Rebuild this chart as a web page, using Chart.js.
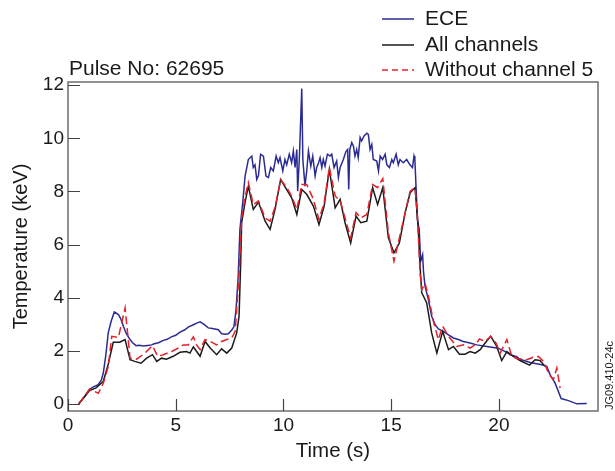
<!DOCTYPE html>
<html>
<head>
<meta charset="utf-8">
<script src="https://cdn.jsdelivr.net/npm/chart.js@4.4.1/dist/chart.umd.min.js"></script>
<style>
  html, body { margin: 0; padding: 0; background: #fff; }
  #wrap { width: 615px; height: 471px; }
</style>
</head>
<body>
<div id="wrap"><canvas id="chartTe"></canvas></div>
<script>
// ── data (time in s, Te in keV) ──
const eceTime = [0.5,0.75,1.0,1.2,1.4,1.55,1.64,1.75,1.87,2.0,2.15,2.34,2.45,2.57,2.7,2.88,3.0,3.16,3.3,3.5,3.7,3.88,
  4.0,4.2,4.4,4.6,4.8,5.0,5.2,5.4,5.6,5.82,6.0,6.13,6.3,6.51,6.7,6.98,7.13,7.3,7.44,7.6,7.7,7.8,7.9,7.98,
  8.11,8.22,8.37,8.53,8.6,8.68,8.76,8.84,8.94,9.07,9.19,9.3,9.41,9.53,9.66,9.76,9.84,9.97,10.07,10.15,10.27,10.38,
  10.46,10.54,10.62,10.66,10.74,10.85,10.9,11.0,11.08,11.16,11.27,11.36,11.47,11.54,11.6,11.7,11.78,11.85,11.93,
  12.04,12.16,12.24,12.35,12.47,12.55,12.63,12.78,12.9,12.98,13.03,13.08,13.17,13.25,13.32,13.4,13.47,13.56,13.63,
  13.74,13.87,13.94,14.02,14.1,14.17,14.33,14.41,14.49,14.6,14.72,14.8,14.92,15.03,15.1,15.23,15.33,15.41,15.56,
  15.72,15.87,15.99,16.06,16.1,16.16,16.22,16.3,16.37,16.46,16.5,16.57,16.73,16.88,17.04,17.19,17.42,17.66,17.89,
  18.12,18.35,18.66,18.97,19.44,19.9,20.06,20.37,20.52,20.83,20.98,21.45,21.99,22.22,22.38,22.61,22.89,23.23,23.62,24.08];
const eceTemp = [0,0.25,0.55,0.65,0.72,0.9,1.17,1.8,2.68,3.1,3.46,3.36,3.2,2.92,2.65,2.42,2.3,2.19,2.21,2.18,2.2,2.22,
  2.26,2.3,2.38,2.43,2.52,2.58,2.7,2.78,2.9,2.98,3.05,3.09,3.0,2.86,2.84,2.79,2.64,2.62,2.64,2.78,2.9,3.55,4.8,6.57,
  7.58,8.58,9.2,9.33,8.9,9.0,8.45,8.6,9.4,9.33,8.58,8.52,8.9,8.77,9.33,9.08,9.27,8.77,9.2,9.0,9.4,9.08,
  9.52,8.9,9.58,8.01,9.27,11.87,9.2,8.2,8.77,9.52,8.95,9.33,8.58,8.9,9.0,9.27,8.9,9.2,8.95,
  9.4,9.33,9.4,8.9,9.14,8.52,8.9,9.2,9.5,9.58,8.07,9.58,9.84,9.7,9.33,9.58,9.27,10.03,9.9,
  10.09,10.19,10.15,9.58,9.77,9.2,9.14,8.77,9.33,9.2,9.4,9.0,8.9,9.2,9.08,9.4,9.0,9.2,9.08,
  9.2,9.0,8.9,9.33,9.2,8.07,6.94,6.57,5.37,5.62,4.99,4.43,3.92,3.3,2.98,2.82,2.73,2.6,2.48,
  2.42,2.35,2.29,2.22,2.16,2.1,2.06,1.94,1.85,1.78,1.68,1.56,1.47,1.41,1.09,0.78,0.2,0.12,0.0,0.01];

const allTime = [0.5,1.0,1.3,1.64,1.87,2.1,2.4,2.65,2.88,3.1,3.39,3.65,3.92,4.12,4.34,4.57,4.88,5.2,5.5,5.66,5.82,5.97,
  6.13,6.36,6.6,6.9,7.13,7.37,7.6,7.83,7.94,8.02,8.06,8.22,8.37,8.6,8.84,9.15,9.38,9.61,9.87,10.15,10.38,10.62,
  10.85,11.08,11.39,11.65,11.89,12.13,12.4,12.63,12.86,13.12,13.37,13.59,13.87,14.14,14.37,14.61,14.87,15.13,15.38,
  15.65,15.88,16.11,16.26,16.34,16.42,16.5,16.65,16.88,17.12,17.39,17.66,17.89,18.17,18.43,18.66,18.9,19.13,19.36,
  19.62,19.9,20.13,20.37,20.67,20.98,21.42,21.68,21.91,22.14];
const allTemp = [0,0.5,0.6,0.85,1.5,2.32,2.32,2.42,1.66,1.6,1.53,1.72,1.85,1.6,1.72,1.68,1.79,1.94,1.97,1.91,2.14,1.97,
  1.79,2.35,2.1,1.85,2.07,1.91,2.1,2.67,3.3,5.43,6.82,7.6,8.2,7.32,7.6,6.88,6.57,7.32,8.45,8.07,7.76,7.13,
  8.07,7.89,7.45,6.75,7.45,8.83,7.38,7.7,6.82,6.06,7.07,6.82,6.88,8.14,7.51,8.14,6.25,5.69,6.06,
  7.2,7.95,8.14,6.57,5.18,4.18,4.05,3.8,2.67,1.91,2.73,2.04,2.16,1.87,1.87,1.97,1.91,2.04,2.29,
  2.54,2.16,1.63,1.97,1.79,1.63,1.46,1.66,1.63,1.41];

const w5Time = [0.5,1.0,1.41,1.64,1.87,2.03,2.34,2.65,2.88,3.19,3.57,3.92,4.16,4.42,4.81,5.12,5.35,5.58,5.82,5.97,6.13,
  6.36,6.6,6.9,7.13,7.37,7.6,7.76,7.86,7.95,8.06,8.22,8.37,8.6,8.84,9.15,9.38,9.61,9.87,10.15,10.38,10.62,10.85,
  11.08,11.39,11.65,11.89,12.13,12.4,12.63,12.86,13.12,13.37,13.59,13.87,14.14,14.37,14.61,14.87,15.13,15.38,15.65,
  15.88,16.11,16.22,16.34,16.42,16.57,16.73,16.96,17.19,17.39,17.66,18.05,18.35,18.66,18.9,19.1,19.36,19.62,19.87,
  20.06,20.37,20.6,20.9,21.29,21.6,21.84,22.07,22.34,22.53,22.69,22.84];
const w5Temp = [0,0.55,0.4,0.78,1.41,2.54,2.5,3.61,1.72,1.68,1.91,2.19,1.79,1.85,1.97,2.1,2.22,2.22,2.52,2.22,2.04,
  2.42,2.35,2.22,2.35,2.42,2.48,2.73,3.92,5.05,7.0,7.8,8.33,7.51,7.64,7.0,6.88,7.4,8.45,8.15,7.83,7.32,8.26,
  8.26,7.7,6.94,7.57,8.9,7.83,7.64,7.0,6.25,7.2,7.0,7.13,8.26,8.14,8.48,6.44,5.37,6.25,7.2,
  8.01,8.14,7.07,4.93,4.3,4.55,4.05,3.11,2.42,2.92,2.54,2.16,2.22,2.1,2.22,2.44,2.35,2.54,2.29,
  1.91,2.42,1.78,1.7,1.66,1.76,1.78,1.6,1.09,0.91,1.35,0.59];

const xTicks = [0, 5, 10, 15, 20];
const yTicks = [0, 2, 4, 6, 8, 10, 12];

const FONT = "'Liberation Sans', Arial, Helvetica, sans-serif";
const pts = (xs, ys) => xs.map((x, i) => ({ x, y: ys[i] }));

const series = [
  { label: 'ECE',                data: pts(eceTime, eceTemp), color: '#2b2c93', dash: [] },
  { label: 'All channels',       data: pts(allTime, allTemp), color: '#1b1b1b', dash: [] },
  { label: 'Without channel 5',  data: pts(w5Time,  w5Temp),  color: '#e4202a', dash: [8, 4] },
];

// inward ticks, frame, legend and annotations
const decor = {
  id: 'decor',
  afterDatasetsDraw(chart) {
    const { ctx, chartArea: a, scales: { x, y } } = chart;
    ctx.save();
    ctx.strokeStyle = '#6e6e6e';
    ctx.lineWidth = 1.5;
    ctx.strokeRect(a.left, a.top, a.right - a.left, a.bottom - a.top);
    ctx.strokeStyle = '#444';
    ctx.lineWidth = 1.2;
    ctx.beginPath();
    x.ticks.forEach(t => {
      const px = Math.round(x.getPixelForValue(t.value)) + 0.5;
      ctx.moveTo(px, a.bottom); ctx.lineTo(px, a.bottom - 12);
    });
    y.ticks.forEach(t => {
      const py = Math.round(y.getPixelForValue(t.value)) + 0.5;
      ctx.moveTo(a.left, py); ctx.lineTo(a.left + 12, py);
    });
    ctx.stroke();

    // legend, stacked top right
    ctx.font = '21px ' + FONT;
    ctx.textBaseline = 'middle';
    ctx.fillStyle = '#1a1a1a';
    const rows = [19, 45, 70];
    series.forEach((s, i) => {
      ctx.strokeStyle = s.color;
      ctx.lineWidth = 1.5;
      ctx.setLineDash(s.dash.length ? [6, 4] : []);
      ctx.beginPath();
      ctx.moveTo(382, rows[i]); ctx.lineTo(414, rows[i]);
      ctx.stroke();
      ctx.setLineDash([]);
      ctx.fillText(s.label, 425, rows[i]);
    });

    ctx.fillText('Pulse No: 62695', 69, 69);

    ctx.font = '11px ' + FONT;
    ctx.translate(610, 410);
    ctx.rotate(-Math.PI / 2);
    ctx.textBaseline = 'middle';
    ctx.fillText('JG09.410-24c', 0, 0);
    ctx.restore();
  }
};

new Chart(document.getElementById('chartTe'), {
  type: 'line',
  data: {
    datasets: series.map((s, i) => ({
      label: s.label,
      data: s.data,
      borderColor: s.color,
      borderWidth: 1.5,
      borderDash: s.dash,
      pointRadius: 0,
      tension: 0,
      fill: false,
      order: 2 - i,
    }))
  },
  options: {
    responsive: true, maintainAspectRatio: false,
    animation: false,
    events: [],
    layout: { padding: { top: 82, right: 17, left: 0, bottom: 0 } },
    plugins: { legend: { display: false }, tooltip: { enabled: false } },
    scales: {
      x: {
        type: 'linear', min: 0, max: 24.6,
        afterBuildTicks: s => { s.ticks = xTicks.map(v => ({ value: v })); },
        afterFit: s => { s.height = 60; },
        grid: { display: false, drawTicks: false },
        border: { display: false },
        ticks: { color: '#1a1a1a', font: { family: FONT, size: 19 }, padding: 3, maxRotation: 0 },
        title: { display: true, text: 'Time (s)', color: '#1a1a1a', font: { family: FONT, size: 20.5 }, padding: { bottom: 7 } }
      },
      y: {
        type: 'linear', min: -0.27, max: 12.12,
        afterBuildTicks: s => { s.ticks = yTicks.map(v => ({ value: v })); },
        afterFit: s => { s.width = 68; },
        grid: { display: false, drawTicks: false },
        border: { display: false },
        ticks: { color: '#1a1a1a', font: { family: FONT, size: 19 }, padding: 4 },
        title: { display: true, text: 'Temperature (keV)', color: '#1a1a1a', font: { family: FONT, size: 20 }, padding: { top: 9 } }
      }
    }
  },
  plugins: [decor]
});
</script>
</body>
</html>
